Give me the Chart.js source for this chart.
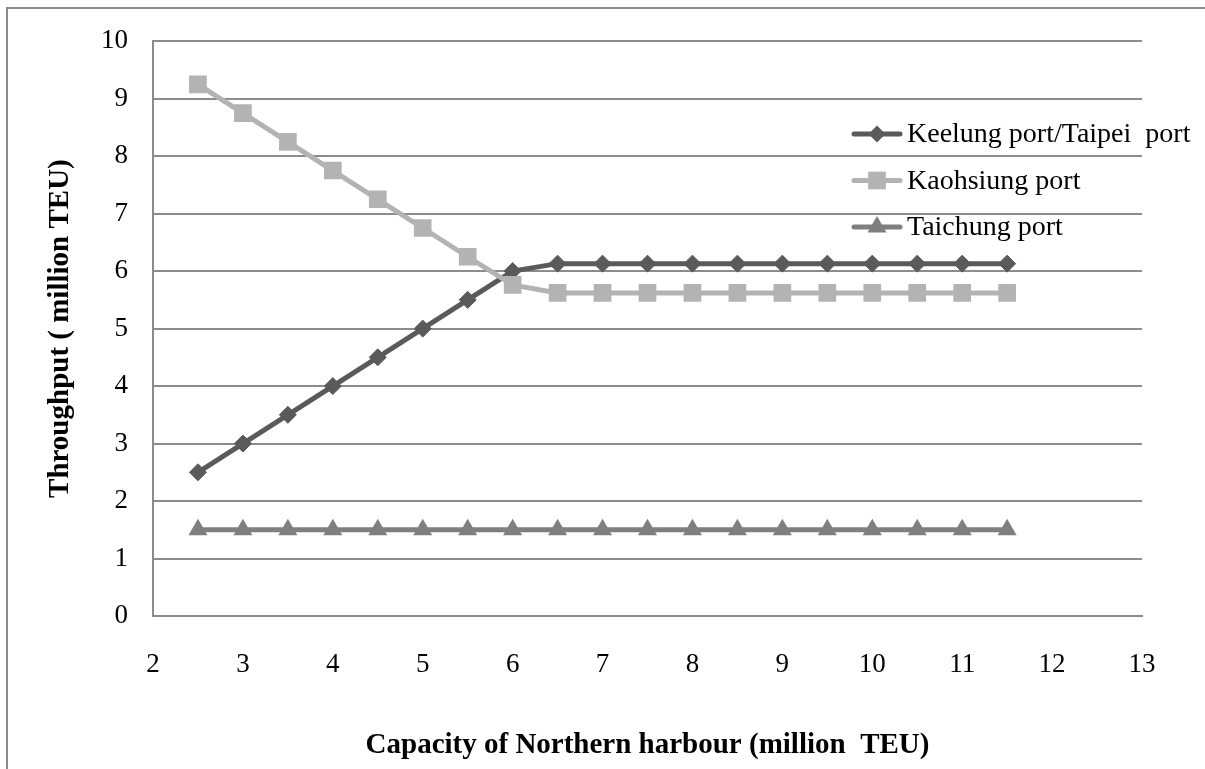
<!DOCTYPE html>
<html>
<head>
<meta charset="utf-8">
<script src="https://cdn.jsdelivr.net/npm/chart.js@4/dist/chart.umd.min.js"></script>
<style>
  html, body { margin: 0; padding: 0; background: #fff; overflow: hidden; }
  #frame { position: absolute; left: 6px; top: 7px; width: 1240px; height: 800px; border: 2px solid #8c8c8c; }
  #wrap { position: absolute; left: 0; top: 0; width: 1205px; height: 769px; }
</style>
</head>
<body>
<div id="frame"></div>
<div id="wrap"><canvas id="myChart" width="1205" height="769"></canvas></div>
<script>
// capacity of the northern harbour (million TEU)
var capacity = [2.5, 3, 3.5, 4, 4.5, 5, 5.5, 6, 6.5, 7, 7.5, 8, 8.5, 9, 9.5, 10, 10.5, 11, 11.5];
var keelung = [2.5, 3, 3.5, 4, 4.5, 5, 5.5, 6, 6.13, 6.13, 6.13, 6.13, 6.13, 6.13, 6.13, 6.13, 6.13, 6.13, 6.13];
var kaohsiung = [9.25, 8.75, 8.25, 7.75, 7.25, 6.75, 6.25, 5.76, 5.62, 5.62, 5.62, 5.62, 5.62, 5.62, 5.62, 5.62, 5.62, 5.62, 5.62];
var taichung = [1.5, 1.5, 1.5, 1.5, 1.5, 1.5, 1.5, 1.5, 1.5, 1.5, 1.5, 1.5, 1.5, 1.5, 1.5, 1.5, 1.5, 1.5, 1.5];
var seriesNames = ['Keelung port/Taipei  port', 'Kaohsiung port', 'Taichung port'];
var xTitle = 'Capacity of Northern harbour (million  TEU)';
var yTitle = 'Throughput ( million TEU)';

var FONT = "'Liberation Serif', 'Times New Roman', serif";

function pts(ys) {
    return capacity.map(function (x, i) { return { x: x, y: ys[i] }; });
}

function marker(ctx, style, r, x, y, color) {
    ctx.fillStyle = color;
    ctx.beginPath();
    if (style === 'rectRot') {
        ctx.moveTo(x - r, y); ctx.lineTo(x, y - r); ctx.lineTo(x + r, y); ctx.lineTo(x, y + r);
    } else if (style === 'rect') {
        var s = Math.SQRT1_2 * r;
        ctx.rect(x - s, y - s, 2 * s, 2 * s);
    } else {
        var w = r * Math.sqrt(3) / 2;
        ctx.moveTo(x, y - r); ctx.lineTo(x + w, y + r / 2); ctx.lineTo(x - w, y + r / 2);
    }
    ctx.closePath();
    ctx.fill();
}

// legend with line + marker, drawn inside the plot on the right
const sideLegend = {
    id: 'sideLegend',
    afterDraw(chart) {
        const ctx = chart.ctx;
        ctx.save();
        chart.data.datasets.forEach(function (ds, i) {
            var y = 134 + i * 46.5;
            ctx.strokeStyle = ds.borderColor;
            ctx.lineWidth = 5;
            ctx.lineCap = 'round';
            ctx.beginPath();
            ctx.moveTo(854, y);
            ctx.lineTo(900, y);
            ctx.stroke();
            marker(ctx, ds.pointStyle, ds.pointRadius, 877, y, ds.pointBackgroundColor);
            ctx.fillStyle = '#000';
            ctx.font = "28px " + FONT;
            ctx.textBaseline = 'middle';
            ctx.textAlign = 'left';
            ctx.fillText(ds.label, 907, y + 1);
        });
        ctx.restore();
    }
};

const ctx = document.getElementById('myChart').getContext('2d');
const myChart = new Chart(ctx, {
    type: 'line',
    data: {
        datasets: [{
            label: seriesNames[0],
            data: pts(keelung),
            borderColor: '#5a5a5a',
            backgroundColor: '#5a5a5a',
            pointBackgroundColor: '#5a5a5a',
            pointBorderColor: '#5a5a5a',
            pointStyle: 'rectRot',
            pointRadius: 8.5,
            pointBorderWidth: 1,
            borderWidth: 5,
            order: 3
        }, {
            label: seriesNames[1],
            data: pts(kaohsiung),
            borderColor: '#b3b3b3',
            backgroundColor: '#b3b3b3',
            pointBackgroundColor: '#b3b3b3',
            pointBorderColor: '#b3b3b3',
            pointStyle: 'rect',
            pointRadius: 12.5,
            pointBorderWidth: 0,
            borderWidth: 5,
            order: 2
        }, {
            label: seriesNames[2],
            data: pts(taichung),
            borderColor: '#7f7f7f',
            backgroundColor: '#7f7f7f',
            pointBackgroundColor: '#7f7f7f',
            pointBorderColor: '#7f7f7f',
            pointStyle: 'triangle',
            pointRadius: 11,
            pointBorderWidth: 0,
            borderWidth: 5,
            order: 1
        }]
    },
    options: {
        responsive: false,
        maintainAspectRatio: false,
        animation: false,
        layout: { padding: { left: 0, right: 63, top: 41, bottom: 0 } },
        plugins: {
            legend: { display: false },
            tooltip: { enabled: false }
        },
        scales: {
            x: {
                type: 'linear',
                min: 2,
                max: 13,
                afterFit: function (scale) { scale.height = 769 - 616; },
                ticks: {
                    stepSize: 1,
                    color: '#000',
                    padding: 33,
                    maxRotation: 0,
                    font: { family: FONT, size: 27 }
                },
                grid: { display: false, drawTicks: false },
                border: { display: true, color: '#8c8c8c', width: 2 },
                title: {
                    display: true,
                    text: xTitle,
                    color: '#000',
                    font: { family: FONT, size: 29, weight: 'bold' },
                    padding: { top: 0, bottom: 6 }
                }
            },
            y: {
                min: 0,
                max: 10,
                afterFit: function (scale) { scale.width = 153; },
                ticks: {
                    stepSize: 1,
                    color: '#000',
                    padding: 25,
                    font: { family: FONT, size: 27 }
                },
                grid: { color: '#8c8c8c', lineWidth: 2, drawTicks: false },
                border: { display: true, color: '#8c8c8c', width: 2 },
                title: {
                    display: true,
                    text: yTitle,
                    color: '#000',
                    font: { family: FONT, size: 29, weight: 'bold' },
                    padding: { top: 43, bottom: 0 }
                }
            }
        }
    },
    plugins: [sideLegend]
});
</script>
</body>
</html>
